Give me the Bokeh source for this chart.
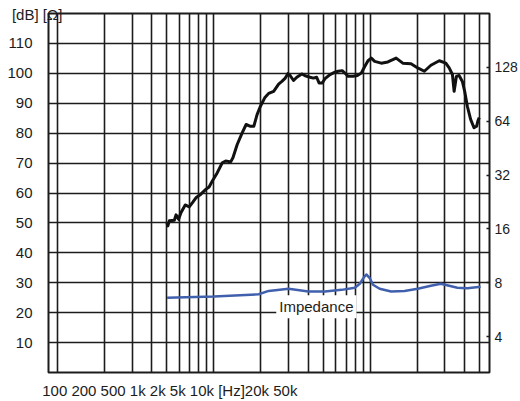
from bokeh.plotting import figure
from bokeh.models import Range1d, LogScale, LogAxis, FixedTicker, Label, NumeralTickFormatter
from bokeh.embed import file_html
from bokeh.resources import INLINE

# ---- data ----
spl_freq_hz = [501, 508, 519, 559, 573, 595, 616, 656, 696, 730,
               768, 826, 888, 932, 978, 1052, 1132, 1190, 1281, 1324,
               1410, 1517, 1608, 1715, 1800, 1889, 1985, 2114, 2241, 2411,
               2594, 2722, 2861, 2972, 3079, 3230, 3390, 3647, 3832, 4123,
               4328, 4541, 4703, 4935, 5133, 5524, 5943, 6234, 6612, 6880,
               7217, 7767, 8271, 8769, 9213, 9670, 10145, 10664, 11744, 12953,
               14628, 16131, 18211, 20093, 22155, 24404, 27590, 30380, 31925, 33497,
               34346, 35520, 36940, 38770, 40100, 41710, 43780, 46000, 47800, 48790,
               49720]
spl_db = [50.0, 49.0, 50.7, 50.9, 52.7, 51.2, 53.4, 56.0, 55.4, 56.8,
          58.4, 59.6, 61.2, 62.0, 64.0, 66.8, 70.1, 70.7, 70.4, 71.8,
          76.2, 80.1, 82.9, 82.3, 82.3, 86.2, 89.0, 91.8, 93.3, 94.0,
          96.4, 97.3, 98.4, 99.9, 99.2, 97.6, 98.7, 99.8, 99.2, 98.7,
          98.4, 98.7, 96.8, 96.8, 98.2, 99.6, 100.4, 100.7, 100.9, 100.1,
          99.0, 99.0, 99.3, 100.1, 102.3, 104.2, 105.1, 104.0, 103.4, 103.8,
          105.1, 103.4, 103.2, 101.8, 100.7, 102.7, 104.2, 103.4, 101.8, 99.6,
          94.0, 99.0, 99.3, 97.3, 94.0, 89.0, 84.6, 81.8, 82.3, 84.2,
          85.2]

imp_freq_hz = [502, 1000, 1936, 2241, 3003, 4022, 5133, 6545, 7962, 8566,
               9120, 9433, 9913, 10402, 11474, 13590, 16538, 20093, 24404, 28240,
               31925, 36040, 41710, 50680]
imp_ohm = [6.6, 6.7, 6.9, 7.2, 7.4, 7.15, 7.15, 7.3, 7.5, 7.9,
           8.6, 8.9, 8.5, 7.8, 7.4, 7.15, 7.2, 7.4, 7.7, 7.9,
           7.7, 7.5, 7.45, 7.6]

db_ticks = [10, 20, 30, 40, 50, 60, 70, 80, 90, 100, 110]
imp_ticks = [4, 8, 16, 32, 64, 128]
x_tick_labels = ["100", "200", "500", "1k", "2k", "5k", "10k", "[Hz]20k", "50k"]
unit_label = "[dB] [Ω]"
grid_freqs = [d * 10 ** k for k in (2, 3) for d in range(1, 10)] + [10000, 20000, 30000, 40000, 50000]

FONT = "Liberation Sans"
INK = "#1c1c1c"

p = figure(width=520, height=401, x_axis_type="log",
           x_range=Range1d(87.7, 57800), y_range=Range1d(0, 120),
           output_backend="svg", toolbar_location=None,
           min_border_left=48, min_border_right=28,
           min_border_top=13, min_border_bottom=29)
p.extra_y_ranges = {"imp": Range1d(2.5198, 256)}
p.extra_y_scales = {"imp": LogScale()}

p.background_fill_color = "white"
p.border_fill_color = "white"
p.outline_line_color = INK
p.outline_line_width = 2
p.outline_line_alpha = 1

p.xgrid.ticker = FixedTicker(ticks=grid_freqs)
p.ygrid.ticker = FixedTicker(ticks=db_ticks)
p.grid.grid_line_color = INK
p.grid.grid_line_width = 1.6
p.grid.grid_line_alpha = 1

# bottom frequency caption (one text row, as in the reference)
bottom_text = " ".join(x_tick_labels)
bottom_text = bottom_text.replace("] 20k", "]20k")
bt_pos = 523
ba = p.below[0]
ba.ticker = FixedTicker(ticks=[bt_pos])
ba.major_label_overrides = {bt_pos: bottom_text}
ba.axis_line_color = None
ba.major_tick_line_color = None
ba.minor_tick_line_color = None
ba.major_tick_out = 0
ba.major_label_standoff = 9
ba.major_label_text_font = FONT
ba.major_label_text_font_size = "15px"
ba.major_label_text_color = INK

# unit caption at the top left
ut_pos = 92
ta = LogAxis(ticker=FixedTicker(ticks=[ut_pos]),
             major_label_overrides={ut_pos: unit_label + "\u00a0" * 7})
ta.axis_line_color = None
ta.major_tick_line_color = None
ta.minor_tick_line_color = None
ta.major_tick_out = 0
ta.major_tick_in = 0
ta.major_label_standoff = -9
ta.major_label_text_font = FONT
ta.major_label_text_font_size = "15px"
ta.major_label_text_color = INK
p.add_layout(ta, "above")

la = p.left[0]
la.ticker = FixedTicker(ticks=db_ticks)
la.axis_line_color = None
la.major_tick_line_color = None
la.minor_tick_line_color = None
la.major_tick_out = 0
la.major_label_standoff = 16
la.major_label_text_font = FONT
la.major_label_text_font_size = "15px"
la.major_label_text_color = INK

ra = LogAxis(y_range_name="imp", ticker=FixedTicker(ticks=imp_ticks),
             formatter=NumeralTickFormatter(format="0"))
ra.axis_line_color = None
ra.major_tick_in = 3
ra.major_tick_out = 0
ra.major_tick_line_color = INK
ra.major_tick_line_width = 1.5
ra.minor_tick_line_color = None
ra.major_label_standoff = 5
ra.major_label_text_font = FONT
ra.major_label_text_font_size = "14px"
ra.major_label_text_color = INK
p.add_layout(ra, "right")

p.line(spl_freq_hz, spl_db, line_color="#111111", line_width=3, line_join="round")
p.line(imp_freq_hz, imp_ohm, y_range_name="imp", line_color="#4060ad",
       line_width=2.5, line_join="round")

p.add_layout(Label(x=4521, y=22, text="Impedance", text_align="center",
                   text_baseline="middle", background_fill_color="white",
                   padding=3, text_font=FONT, text_font_size="15px", text_color=INK))

open("out.html", "w").write(file_html(p, INLINE))
